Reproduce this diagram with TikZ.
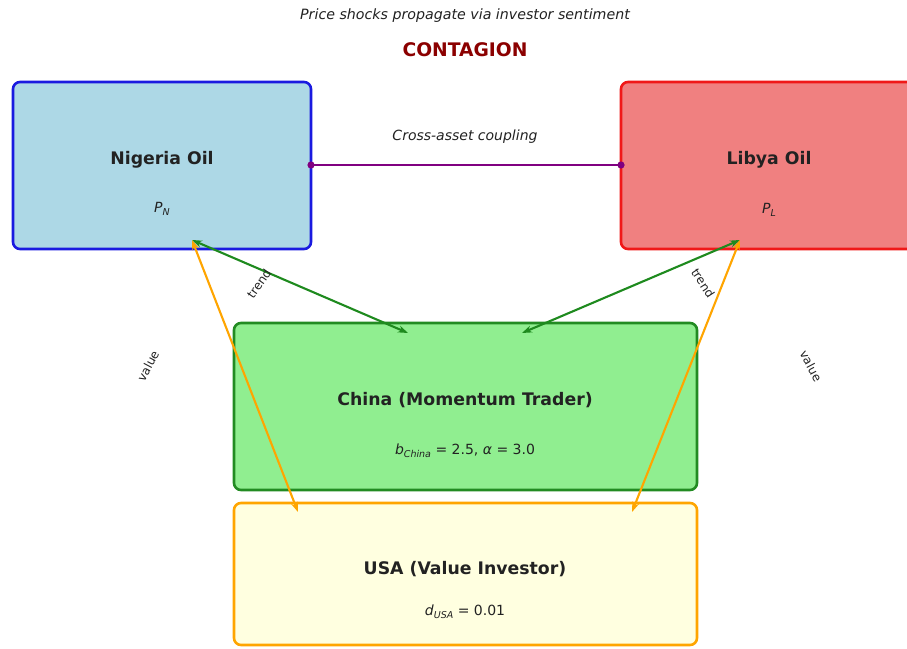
\documentclass[tikz,border=0pt]{standalone}
\usepackage{fontspec}
\setmainfont{DejaVu Sans}
\usetikzlibrary{arrows.meta}
\definecolor{nigfill}{HTML}{ADD8E6}
\definecolor{libfill}{HTML}{F08080}
\definecolor{chnfill}{HTML}{90EE90}
\definecolor{usafill}{HTML}{FFFFE0}
\definecolor{nigdraw}{HTML}{1A1AE0}
\definecolor{libdraw}{HTML}{F01818}
\definecolor{chndraw}{HTML}{228B22}
\definecolor{usadraw}{HTML}{FFA500}
\definecolor{trendcol}{HTML}{1E8A1E}
\definecolor{valuecol}{HTML}{FFA500}
\definecolor{couplecol}{HTML}{800080}
\definecolor{titlered}{HTML}{8B0000}
\definecolor{txt}{HTML}{222222}
\newcommand{\mysub}[2]{\textit{#1}\raisebox{-0.35ex}{\fontsize{9.5}{9.5}\selectfont\textit{#2}}}
\tikzset{
  box/.style={rounded corners=7pt, line width=2.6pt},
  bigtxt/.style={font=\fontsize{17.3}{20}\selectfont\bfseries, text=txt},
  smalltxt/.style={font=\fontsize{14}{16}\selectfont, text=txt},
  lbl/.style={font=\fontsize{12}{14}\selectfont, text=txt},
  trendarrow/.style={draw=trendcol, line width=2.1pt, {Stealth[length=10pt,width=7pt]}-{Stealth[length=10pt,width=7pt]}},
  valuearrow/.style={draw=valuecol, line width=2.1pt, {Stealth[length=10pt,width=7pt]}-{Stealth[length=10pt,width=7pt]}},
}
\begin{document}
\begin{tikzpicture}[x=1pt,y=-1pt]
\useasboundingbox (0,0) rectangle (907,648);
\fill[white] (0,0) rectangle (907,648);
% boxes
\draw[box, fill=nigfill, draw=nigdraw] (13,82) rectangle (311,249);
\draw[box, fill=libfill, draw=libdraw] (621,82) rectangle (935,249);
\draw[box, fill=chnfill, draw=chndraw] (234,323) rectangle (697,490);
\draw[box, fill=usafill, draw=usadraw] (234,503) rectangle (697,645);
% anchor coordinates
\coordinate (nigR) at (311,165);
\coordinate (libL) at (621,165);
\coordinate (nigB) at (192,240);
\coordinate (libB) at (740,240);
\coordinate (chnL) at (408,333);
\coordinate (chnR) at (522,333);
\coordinate (usaL) at (298,512);
\coordinate (usaR) at (632,512);
% texts
\node[font=\fontsize{14.2}{17}\selectfont\itshape, text=txt] (subt) at (465,16) {Price shocks propagate via investor sentiment};
\node[font=\fontsize{18.7}{22}\selectfont\bfseries, text=titlered] (title) at (465,50) {CONTAGION};
\node[bigtxt] (nig) at (162,160) {Nigeria Oil};
\node[smalltxt] (nigp) at (162,209) {\mysub{P}{N}};
\node[bigtxt] (lib) at (769,160) {Libya Oil};
\node[smalltxt] (libp) at (769,210) {\mysub{P}{L}};
\node[bigtxt] (chn) at (465,400) {China (Momentum Trader)};
\node[smalltxt] (chnp) at (465,451) {\mysub{b}{China} = 2.5, \textit{α} = 3.0};
\node[bigtxt] (usa) at (465,569) {USA (Value Investor)};
\node[smalltxt] (usap) at (465,612) {\mysub{d}{USA} = 0.01};
% coupling
\draw[couplecol, line width=2.1pt] (nigR) -- (libL);
\fill[couplecol] (nigR) circle (3.6pt);
\fill[couplecol] (libL) circle (3.6pt);
\node[font=\fontsize{14}{16}\selectfont\itshape, text=txt] (cpl) at (465,137) {Cross-asset coupling};
% arrows
\draw[trendarrow] (nigB) -- (chnL);
\draw[trendarrow] (libB) -- (chnR);
\draw[valuearrow] (nigB) -- (usaL);
\draw[valuearrow] (libB) -- (usaR);
% labels
\node[lbl, rotate=55] (t1) at (259,284) {trend};
\node[lbl, rotate=-57] (t2) at (703,283) {trend};
\node[lbl, rotate=62] (v1) at (148,366) {value};
\node[lbl, rotate=-62] (v2) at (811,366) {value};
\end{tikzpicture}
\end{document}
